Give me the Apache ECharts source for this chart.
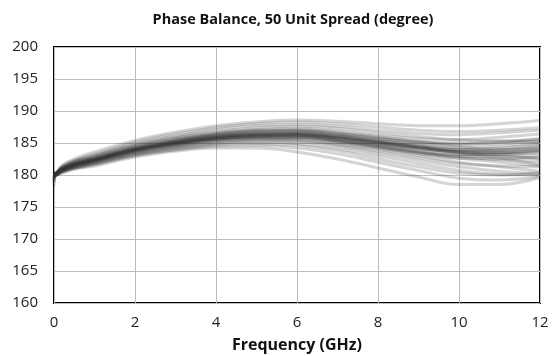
<!DOCTYPE html>
<html><head><meta charset="utf-8">
<script src="https://cdn.jsdelivr.net/npm/echarts@6/dist/echarts.min.js"></script>
<style>html,body{margin:0;padding:0;background:#fff}#c{width:555px;height:356px}</style>
</head><body><div id="c"></div>
<script>
const freqs = [0,0.03,0.2,0.5,1,2,3,4,5,6,7,8,9,10,11,12];
const A1  = [180.6,180.3,181.5,182.5,183.6,185.4,186.7,187.7,188.3,188.6,188.4,188.0,187.7,187.7,188.0,188.5];
const A2  = [180.4,180.3,181.4,182.3,183.3,185.1,186.4,187.4,188.0,188.3,188.0,187.5,187.0,186.8,187.0,187.4];
const A3  = [180.2,180.2,181.3,182.2,183.1,184.9,186.1,187.1,187.7,187.9,187.6,187.0,186.5,186.3,186.6,187.0];
const A4  = [180.0,180.2,181.2,182.1,183.0,184.7,185.9,186.8,187.4,187.6,187.3,186.6,186.0,185.5,185.3,185.6];
const A5  = [179.8,180.2,181.1,182.0,182.9,184.6,185.8,186.6,187.1,187.3,186.9,186.2,185.7,185.5,185.9,186.4];
const A6  = [180.3,180.2,181.1,182.0,182.8,184.5,185.6,186.5,187.0,187.1,186.7,186.0,185.3,184.8,184.9,185.3];
const A7  = [179.5,180.1,181.0,181.9,182.7,184.4,185.5,186.4,186.9,187.0,186.5,185.8,185.0,184.4,184.0,184.1];
const A8  = [180.1,180.1,181.0,181.8,182.6,184.3,185.4,186.3,186.8,186.9,186.4,185.7,185.1,184.8,185.1,185.7];
const A9  = [179.9,180.1,180.9,181.8,182.6,184.2,185.3,186.2,186.6,186.7,186.2,185.4,184.6,183.9,183.5,183.4];
const A10 = [180.2,180.1,181.0,181.7,182.5,184.1,185.2,186.1,186.5,186.6,186.1,185.3,184.5,183.9,183.9,184.4];
const A11 = [179.2,180.1,180.9,181.7,182.4,184.0,185.1,186.0,186.4,186.5,186.0,185.2,184.4,183.6,183.2,183.0];
const A12 = [180.0,180.1,180.9,181.6,182.4,184.0,185.1,185.9,186.3,186.4,185.9,185.1,184.3,183.6,183.6,184.0];
const A13 = [180.5,180.1,180.8,181.6,182.3,183.9,185.0,185.8,186.2,186.3,185.8,185.0,184.2,183.5,183.0,182.6];
const A14 = [179.7,180.0,180.8,181.5,182.3,183.9,184.9,185.7,186.1,186.2,185.7,184.9,184.2,183.7,183.9,184.5];
const A15 = [178.8,180.0,180.8,181.5,182.2,183.8,184.9,185.7,186.0,186.1,185.5,184.6,183.7,182.9,182.4,182.0];
const A16 = [180.1,180.0,180.7,181.4,182.2,183.7,184.8,185.6,185.9,185.9,185.4,184.6,183.8,183.2,183.2,183.6];
const A17 = [179.6,180.0,180.7,181.4,182.1,183.6,184.7,185.5,185.8,185.8,185.2,184.3,183.4,182.6,182.0,181.4];
const A18 = [180.3,180.0,180.7,181.3,182.1,183.6,184.6,185.4,185.7,185.7,185.1,184.2,183.3,182.6,182.5,182.8];
const A19 = [179.0,180.0,180.6,181.3,182.0,183.5,184.5,185.3,185.6,185.5,184.9,184.0,183.0,182.0,181.3,180.6];
const A20 = [179.9,179.9,180.6,181.2,181.9,183.4,184.4,185.2,185.5,185.4,184.7,183.7,182.7,181.8,181.4,181.3];
const A21 = [180.0,179.9,180.6,181.2,181.9,183.3,184.3,185.0,185.3,185.2,184.5,183.4,182.3,181.3,180.6,180.2];
const A22 = [178.2,179.9,180.5,181.1,181.8,183.2,184.2,184.9,185.1,184.9,184.1,183.0,181.8,180.7,180.1,180.0];
const A23 = [179.4,179.9,180.5,181.0,181.7,183.1,184.0,184.7,184.9,184.6,183.8,182.5,181.3,180.3,180.0,180.4];
const A24 = [179.6,179.9,180.4,181.0,181.6,183.0,183.9,184.5,184.6,184.2,183.3,182.0,180.7,179.5,179.2,179.8];
const A25 = [179.3,179.8,180.3,180.9,181.4,182.8,183.7,184.2,184.2,183.6,182.5,181.1,179.7,178.5,178.5,179.6];
const A26 = [180.0,180.1,180.9,181.7,182.5,184.1,185.2,186.0,186.4,186.5,186.0,185.3,184.7,184.3,184.5,185.0];
const A27 = [180.1,180.1,180.9,181.6,182.4,184.0,185.0,185.8,186.2,186.2,185.6,184.8,184.1,183.6,183.5,183.9];
const A28 = [179.8,180.0,180.8,181.5,182.3,183.9,185.0,185.8,186.2,186.3,185.8,185.1,184.4,184.0,184.2,184.8];
const A29 = [180.2,180.0,180.8,181.5,182.3,183.8,184.9,185.6,186.0,186.0,185.4,184.5,183.6,183.1,183.4,183.8];
const A30 = [179.9,180.1,180.9,181.6,182.4,184.0,185.1,185.9,186.3,186.3,185.8,185.0,184.2,183.4,182.6,181.6];
const A31 = [180.1,180.1,181.0,181.8,182.6,184.2,185.4,186.2,186.7,186.8,186.4,185.7,185.2,185.0,185.3,185.2];
const A32 = [179.7,180.0,180.8,181.5,182.2,183.8,184.8,185.6,185.9,185.9,185.3,184.4,183.5,182.9,182.9,182.4];
const units = [A1,A2,A3,A4,A5,A6,A7,A8,A9,A10,A11,A12,A13,A14,A15,A16,A17,A18,A19,A20,A21,A22,A23,A24,A25,A26,A27,A28,A29,A30,A31,A32];
const xTicks = [0,2,4,6,8,10,12];
const yTicks = [160,165,170,175,180,185,190,195,200];

const chart = echarts.init(document.getElementById('c'));
const series = units.map(u => ({
  type: 'line',
  data: freqs.map((f, i) => [f, u[i]]),
  smooth: 0.4,
  showSymbol: false,
  lineStyle: { color: 'rgba(50,50,50,0.21)', width: 3 }
}));
chart.setOption({
  animation: false,
  title: {
    text: 'Phase Balance, 50 Unit Spread (degree)',
    left: 288, top: 7, textAlign: 'center',
    textStyle: { fontFamily: 'Open Sans', fontWeight: 'bold', fontSize: 14.5, color: '#111' }
  },
  grid: { left: 54, right: 15, top: 47, bottom: 53, show: true, borderColor: '#000', borderWidth: 2, backgroundColor: 'transparent', outerBoundsMode: 'none', containLabel: false },
  xAxis: {
    type: 'value', min: xTicks[0], max: xTicks[xTicks.length-1], interval: 2,
    name: 'Frequency (GHz)', nameLocation: 'middle', nameGap: 34,
    nameTextStyle: { fontFamily: 'Open Sans', fontWeight: 'bold', fontSize: 16, color: '#111' },
    axisLine: { show: false }, axisTick: { show: false },
    axisLabel: { fontFamily: 'Open Sans', fontSize: 15, color: '#222', margin: 12 },
    splitLine: { show: true, lineStyle: { color: '#bdbdbd', width: 1 } }
  },
  yAxis: {
    type: 'value', min: yTicks[0], max: yTicks[yTicks.length-1], interval: 5,
    axisLine: { show: false }, axisTick: { show: false },
    axisLabel: { fontFamily: 'Open Sans', fontSize: 15, color: '#222', margin: 16 },
    splitLine: { show: true, lineStyle: { color: '#bdbdbd', width: 1 } }
  },
  series: series
});
</script></body></html>
